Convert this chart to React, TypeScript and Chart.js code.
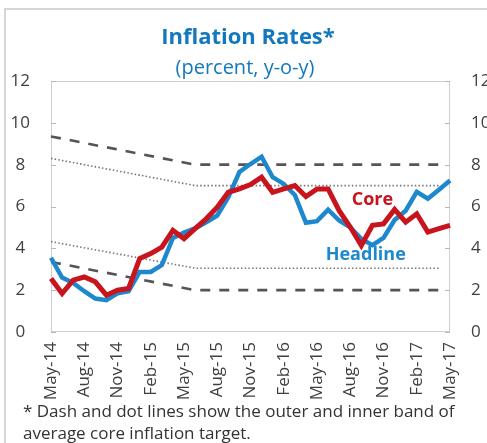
import React, { useEffect, useRef } from "react";
import { Chart, registerables } from "chart.js";

Chart.register(...registerables);

// ---------- data ----------
const months = [
  "May-14", "Jun-14", "Jul-14", "Aug-14", "Sep-14", "Oct-14", "Nov-14", "Dec-14",
  "Jan-15", "Feb-15", "Mar-15", "Apr-15", "May-15", "Jun-15", "Jul-15", "Aug-15",
  "Sep-15", "Oct-15", "Nov-15", "Dec-15", "Jan-16", "Feb-16", "Mar-16", "Apr-16",
  "May-16", "Jun-16", "Jul-16", "Aug-16", "Sep-16", "Oct-16", "Nov-16", "Dec-16",
  "Jan-17", "Feb-17", "Mar-17", "Apr-17", "May-17",
];

const headline = [
  3.55, 2.6, 2.35, 1.95, 1.6, 1.52, 1.85, 1.95, 2.87, 2.87, 3.2, 4.5, 4.75,
  4.95, 5.25, 5.57, 6.45, 7.65, 8.03, 8.38, 7.4, 7.08, 6.55, 5.22, 5.3, 5.85,
  5.33, 5.0, 4.45, 4.15, 4.5, 5.35, 5.8, 6.7, 6.37, 6.8, 7.24,
];

const core = [
  2.56, 1.84, 2.48, 2.63, 2.4, 1.76, 2.0, 2.08, 3.51, 3.75, 4.06, 4.86, 4.46,
  4.94, 5.41, 5.97, 6.68, 6.84, 7.05, 7.4, 6.68, 6.84, 7.0, 6.48, 6.84, 6.84,
  5.8, 5.02, 4.14, 5.1, 5.17, 5.86, 5.25, 5.65, 4.78, 4.94, 5.1,
];

// band values read at the turning points only (null = line passes straight through)
const N = null;
const outerUpper = [9.35, N, N, N, N, N, N, N, N, N, N, N, N, 8.0, N, N, N, N, N, N, N, N, N, N, N, N, N, N, N, N, N, N, N, N, N, 8.0, N];
const innerUpper = [8.3, N, N, N, N, N, N, N, N, N, N, N, N, 7.0, N, N, N, N, N, N, N, N, N, N, N, N, N, N, N, N, N, N, N, N, N, 7.0, N];
const innerLower = [4.32, N, N, N, N, N, N, N, N, N, N, N, N, 3.05, N, N, N, N, N, N, N, N, N, N, N, N, N, N, N, N, N, N, N, N, N, 3.05, N];
const outerLower = [3.35, N, N, N, N, N, N, N, N, N, N, N, N, 2.0, N, N, N, N, N, N, N, N, N, N, N, N, N, N, N, N, N, N, N, N, N, 2.0, N];

const yTicks = [0, 2, 4, 6, 8, 10, 12];

const seriesLabels = [
  { text: "Core", index: 29, value: 6.33, color: "#C8141C" },
  { text: "Headline", index: 28.4, value: 3.67, color: "#1E88CE" },
];

const FONT = "'Open Sans', 'Noto Sans', sans-serif";
const TEXT = "#404040";
const BLUE = "#1E88CE";
const RED = "#C8141C";

const framePlugin = {
  id: "frame",
  beforeDatasetsDraw(chart: any) {
    const { ctx, chartArea: a, scales } = chart;
    ctx.save();
    ctx.strokeStyle = "#cfcfcf";
    ctx.lineWidth = 1;
    ctx.strokeRect(a.left + 0.5, a.top + 0.5, a.right - a.left - 1, a.bottom - a.top - 1);
    ctx.strokeStyle = "#b8b8b8";
    yTicks.forEach((v) => {
      const py = Math.round(scales.y.getPixelForValue(v)) + 0.5;
      ctx.beginPath();
      ctx.moveTo(a.left, py);
      ctx.lineTo(a.left + 5, py);
      ctx.moveTo(a.right - 5, py);
      ctx.lineTo(a.right, py);
      ctx.stroke();
    });
    ctx.restore();
  },
  afterDatasetsDraw(chart: any) {
    const { ctx, scales } = chart;
    ctx.save();
    ctx.font = `bold 18px ${FONT}`;
    ctx.textAlign = "center";
    ctx.textBaseline = "middle";
    seriesLabels.forEach((l) => {
      ctx.fillStyle = l.color;
      ctx.fillText(l.text, scales.x.getPixelForValue(l.index), scales.y.getPixelForValue(l.value));
    });
    ctx.restore();
  },
};

export default function App() {
  const ref = useRef<HTMLCanvasElement | null>(null);

  useEffect(() => {
    if (!ref.current) return;
    const band = (data: (number | null)[], dashed: boolean) => ({
      data,
      borderColor: dashed ? "#555555" : "#777777",
      borderWidth: dashed ? 2.6 : 1.6,
      borderDash: dashed ? [10, 9] : [1.5, 2.2],
      pointRadius: 0,
      spanGaps: true,
      fill: false,
      tension: 0,
      order: 3,
    });
    const chart = new Chart(ref.current, {
      type: "line",
      data: {
        labels: months,
        datasets: [
          { label: "Core", data: core, borderColor: RED, borderWidth: 5, pointRadius: 0, tension: 0, order: 0, borderJoinStyle: "miter" },
          { label: "Headline", data: headline, borderColor: BLUE, borderWidth: 4.5, pointRadius: 0, tension: 0, order: 1, borderJoinStyle: "miter" },
          { label: "Outer upper", ...band(outerUpper, true) },
          { label: "Inner upper", ...band(innerUpper, false) },
          { label: "Inner lower", ...band(innerLower, false) },
          { label: "Outer lower", ...band(outerLower, true) },
        ],
      },
      options: {
        animation: false,
        responsive: false,
        maintainAspectRatio: false,
        layout: { padding: { top: 81, left: 0, right: 0, bottom: 36 } },
        plugins: {
          legend: { display: false },
          tooltip: { enabled: false },
          title: { display: false },
        },
        scales: {
          x: {
            type: "category",
            offset: false,
            grid: { display: false, drawTicks: false },
            border: { display: false },
            ticks: {
              autoSkip: false,
              maxRotation: 90,
              minRotation: 90,
              padding: 10,
              color: TEXT,
              font: { family: FONT, size: 17 },
              callback: (_v: any, i: number) => (i % 3 === 0 ? months[i] : ""),
            },
            afterFit: (s: any) => {
              s.height = 75;
            },
          },
          y: {
            position: "left",
            min: 0,
            max: 12,
            grid: { display: false, drawTicks: false },
            border: { display: false },
            ticks: {
              stepSize: 2,
              crossAlign: "center",
              padding: 21,
              color: TEXT,
              font: { family: FONT, size: 17 },
            },
            afterFit: (s: any) => {
              s.width = 51;
            },
          },
          y2: {
            position: "right",
            min: 0,
            max: 12,
            grid: { display: false, drawTicks: false },
            border: { display: false },
            ticks: {
              stepSize: 2,
              crossAlign: "near",
              padding: 21,
              color: TEXT,
              font: { family: FONT, size: 17 },
            },
            afterFit: (s: any) => {
              s.width = 37;
            },
          },
        },
      } as any,
      plugins: [framePlugin],
    });
    return () => chart.destroy();
  }, []);

  return (
    <div
      style={{
        position: "absolute",
        left: 0,
        top: 0,
        width: 487,
        height: 443,
        overflow: "hidden",
        background: "#ffffff",
        fontFamily: FONT,
      }}
    >
      <div
        style={{
          position: "absolute",
          left: 4,
          top: 8,
          width: 520,
          height: 460,
          borderLeft: "2px solid #d6d6d6",
          borderTop: "2px solid #d6d6d6",
        }}
      />
      <canvas ref={ref} width={487} height={443} style={{ position: "absolute", left: 0, top: 0, width: 487, height: 443 }} />
      <div
        style={{
          position: "absolute",
          left: 0,
          width: 496,
          top: 24,
          textAlign: "center",
          fontSize: 22,
          lineHeight: "22px",
          fontWeight: 700,
          color: "#1478BE",
          whiteSpace: "nowrap",
        }}
      >
        Inflation Rates*
      </div>
      <div
        style={{
          position: "absolute",
          left: 0,
          width: 490,
          top: 57,
          textAlign: "center",
          fontSize: 20,
          lineHeight: "20px",
          color: "#1478BE",
          whiteSpace: "nowrap",
        }}
      >
        (percent, y-o-y)
      </div>
      <div
        style={{
          position: "absolute",
          left: 23,
          top: 400,
          fontSize: 17,
          lineHeight: "22px",
          color: "#333333",
          whiteSpace: "nowrap",
        }}
      >
        * Dash and dot lines show the outer and inner band of
        <br />
        average core inflation target.
      </div>
    </div>
  );
}
